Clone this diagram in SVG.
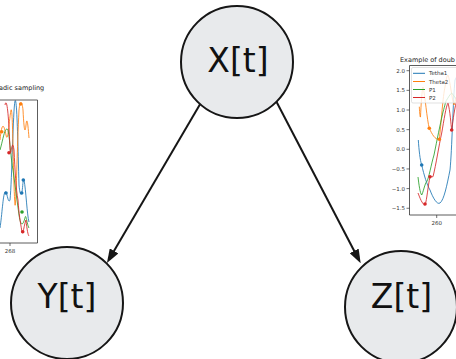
<svg xmlns="http://www.w3.org/2000/svg" width="456" height="359" viewBox="0 0 456 359">
  <style>
    .node circle { fill: #e8eaec; stroke: #161616; stroke-width: 2; }
    .node text { font-family: "DejaVu Sans", sans-serif; font-size: 33px; fill: #111; text-anchor: middle; }
    .edge { stroke: #161616; stroke-width: 2; fill: none; }
    .spine { stroke: #333; stroke-width: 0.8; fill: none; }
    .tick { stroke: #333; stroke-width: 0.7; }
    .lbl { font-family: "DejaVu Sans", sans-serif; font-size: 5.5px; fill: #333; }
    .ttl { font-family: "DejaVu Sans", sans-serif; font-size: 6.5px; fill: #222; }
    .c { fill: none; stroke-width: 1; stroke-linejoin: round; opacity: 0.85; }
    .b { stroke: #1f77b4; } .o { stroke: #ff7f0e; } .g { stroke: #2ca02c; } .r { stroke: #d62728; }
    .mb { fill: #1f77b4; } .mo { fill: #ff7f0e; } .mg { fill: #2ca02c; } .mr { fill: #d62728; }
  </style>
  <defs>
    <marker id="head" viewBox="0 0 14 10" refX="8" refY="5" markerWidth="14" markerHeight="10" markerUnits="userSpaceOnUse" orient="auto">
      <path d="M0,0 L14,5 L0,10 z" fill="#161616"/>
    </marker>
    <clipPath id="clipL"><rect x="0" y="100" width="37.5" height="143"/></clipPath>
    <clipPath id="clipR"><rect x="409.5" y="65.5" width="47" height="149.5"/></clipPath>
  </defs>

  <rect width="456" height="359" fill="#ffffff"/>

  <!-- left plot fragment -->
  <g id="plot-left">
    <text class="ttl" x="-1" y="90">adic sampling</text>
    <g clip-path="url(#clipL)">
      <path class="c b" d="M0,228 C2,215 3,195 5,192 C7,190 8,205 10,200 C12,180 13,110 15,101 C17,95 18,150 19,185 C20,195 21,196 22,192 C23,185 23,178 24,180 C26,190 27,215 29,222"/>
      <path class="c o" d="M0,140 C2,120 4,125 6,135 C8,145 9,120 11,110 C13,105 13,180 15,205 C16,210 17,150 19,110 C20,100 22,100 23,110 C24,130 25,135 26,125 C27,115 28,125 29,138"/>
      <path class="c g" d="M0,150 C3,140 5,125 8,130 C10,140 11,160 13,170 C15,185 17,200 19,215 C21,228 23,225 25,218 C26,212 27,225 29,228"/>
      <path class="c r" d="M5,105 C7,95 9,120 10,150 C11,160 12,135 14,150 C15,170 16,190 18,200 C19,215 20,220 22,232 C23,236 24,225 26,220 C27,230 28,235 29,236"/>
      <circle class="mo" cx="20.7" cy="104" r="1.8"/>
      <circle class="mo" cx="1.7" cy="131.7" r="1.8"/>
      <circle class="mb" cx="6" cy="193" r="1.8"/>
      <circle class="mb" cx="21.7" cy="193" r="1.8"/>
      <circle class="mb" cx="23.3" cy="180" r="1.8"/>
      <circle class="mr" cx="9" cy="152.7" r="1.8"/>
      <circle class="mr" cx="22.7" cy="231.7" r="1.8"/>
      <circle class="mg" cx="22" cy="212" r="1.8"/>
    </g>
    <path class="spine" d="M0,100 H37.5 V243 H0"/>
    <line class="tick" x1="10" y1="243" x2="10" y2="246"/>
    <text class="lbl" x="10" y="253" text-anchor="middle">268</text>
  </g>

  <!-- right plot fragment -->
  <g id="plot-right">
    <text class="ttl" x="400" y="62">Example of doub</text>
    <g clip-path="url(#clipR)">
      <path class="c b" d="M418.3,140 C419,150 420,160 421.7,165 C424,175 427,185 430,190 C433,198 437,205 440,203 C444,200 447,185 450,170 C452,150 453,100 455,80 L457,76"/>
      <path class="c o" d="M419.3,106.7 C419.6,112 420,118 420.5,117 C421,105 422,90 423,87 C425,95 427,120 429.3,128.3 C432,134 435,140 439.3,139.3 C441,125 443,95 445,87 C446,80 447,75 448,75 C450,80 452,100 454,105 L457,95"/>
      <path class="c g" d="M418,177 C419,185 420,193 421.7,195 C423,193 425,183 426.7,181.7 C429,178 431,165 434,155 C437,140 440,125 443,112 C445,105 446,100 446.7,100 C448,98 450,94 451.7,93 L457,100"/>
      <path class="c r" d="M418,193 C420,198 422,204 425,205 C427,200 428,185 430,177 C431,176 432,177 433,176.7 C436,165 439,145 441.7,133 C444,120 446,106 448,103 C450,110 451,125 451.7,130 C453,120 455,105 457,100"/>
      <circle class="mb" cx="421.7" cy="165" r="1.8"/>
      <circle class="mo" cx="429.3" cy="128.3" r="1.8"/>
      <circle class="mo" cx="439.3" cy="139.3" r="1.8"/>
      <circle class="mr" cx="430" cy="176.7" r="1.8"/>
      <circle class="mr" cx="425" cy="204" r="1.8"/>
      <circle class="mr" cx="451.7" cy="130" r="1.8"/>
    </g>
    <path class="spine" d="M457,65.5 H409.5 V215 H457"/>
    <g>
      <line class="tick" x1="406.5" y1="70.7" x2="409.5" y2="70.7"/>
      <line class="tick" x1="406.5" y1="90.35" x2="409.5" y2="90.35"/>
      <line class="tick" x1="406.5" y1="110" x2="409.5" y2="110"/>
      <line class="tick" x1="406.5" y1="129.65" x2="409.5" y2="129.65"/>
      <line class="tick" x1="406.5" y1="149.3" x2="409.5" y2="149.3"/>
      <line class="tick" x1="406.5" y1="168.95" x2="409.5" y2="168.95"/>
      <line class="tick" x1="406.5" y1="188.6" x2="409.5" y2="188.6"/>
      <line class="tick" x1="406.5" y1="208.25" x2="409.5" y2="208.25"/>
    </g>
    <g text-anchor="end">
      <text class="lbl" x="405" y="72.7">2.0</text>
      <text class="lbl" x="405" y="92.35">1.5</text>
      <text class="lbl" x="405" y="112">1.0</text>
      <text class="lbl" x="405" y="131.65">0.5</text>
      <text class="lbl" x="405" y="151.3">0.0</text>
      <text class="lbl" x="405" y="170.95">−0.5</text>
      <text class="lbl" x="405" y="190.6">−1.0</text>
      <text class="lbl" x="405" y="210.25">−1.5</text>
    </g>
    <line class="tick" x1="436.7" y1="215" x2="436.7" y2="218"/>
    <text class="lbl" x="436.7" y="225" text-anchor="middle">260</text>
    <!-- legend -->
    <rect x="411.5" y="67.5" width="50" height="35.5" rx="1.5" fill="#ffffff" fill-opacity="0.8" stroke="#cccccc" stroke-width="0.6"/>
    <line class="b" x1="413" y1="73.3" x2="425" y2="73.3" stroke-width="1"/>
    <line class="o" x1="413" y1="81.5" x2="425" y2="81.5" stroke-width="1"/>
    <line class="g" x1="413" y1="89.5" x2="425" y2="89.5" stroke-width="1"/>
    <line class="r" x1="413" y1="97.5" x2="425" y2="97.5" stroke-width="1"/>
    <text class="lbl" x="429" y="75.3">Tetha1</text>
    <text class="lbl" x="429" y="83.5">Theta2</text>
    <text class="lbl" x="429" y="91.5">P1</text>
    <text class="lbl" x="429" y="99.5">P2</text>
  </g>

  <!-- connectors -->
  <g id="edges">
    <line class="edge" x1="204" y1="97.4" x2="110" y2="257.8" marker-end="url(#head)"/>
    <line class="edge" x1="274" y1="97" x2="357.9" y2="258" marker-end="url(#head)"/>
  </g>

  <!-- nodes -->
  <g id="node-X" class="node">
    <circle cx="237" cy="62" r="56"/>
    <text x="238" y="72">X[t]</text>
  </g>
  <g id="node-Y" class="node">
    <circle cx="67" cy="303" r="56"/>
    <text x="67" y="308">Y[t]</text>
  </g>
  <g id="node-Z" class="node">
    <circle cx="401" cy="307" r="56"/>
    <text x="401.5" y="308">Z[t]</text>
  </g>
</svg>
